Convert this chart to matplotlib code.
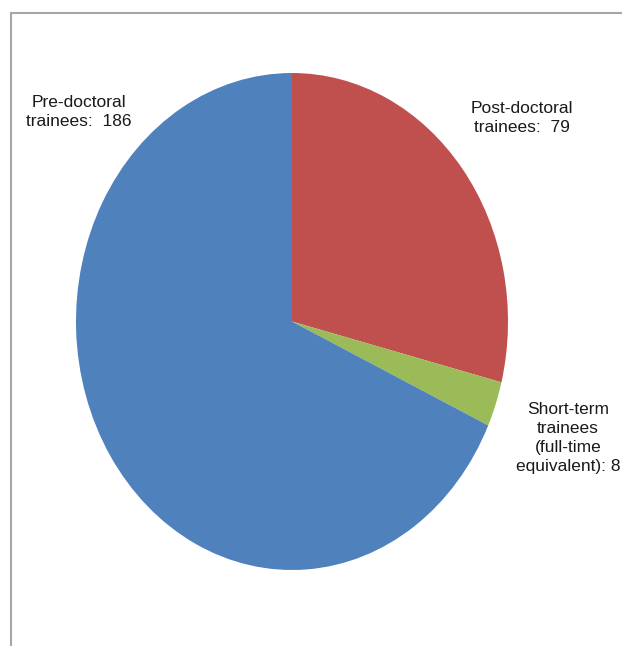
import matplotlib
matplotlib.use("Agg")
import matplotlib.pyplot as plt
from matplotlib.lines import Line2D

labels = ["Post-doctoral\ntrainees:  79",
          "Short-term\ntrainees\n(full-time\nequivalent): 8",
          "Pre-doctoral\ntrainees:  186"]
values = [79, 8, 186]
colors = ["#C0504D", "#9BBB59", "#4F81BD"]
# label centres, in figure pixels from top-left
label_pos = [(522, 118), (568, 438), (79, 112)]

W, H = 622, 646
fig = plt.figure(figsize=(W / 100, H / 100), dpi=100)
plt.rcParams["font.family"] = ["Liberation Sans", "DejaVu Sans"]

# the pie is drawn as an ellipse (stretched vertically) like the original
cx, cy, rx, ry = 292, 321.5, 216, 248.5
ax = fig.add_axes([(cx - rx) / W, 1 - (cy + ry) / H, 2 * rx / W, 2 * ry / H])
ax.pie(values, colors=colors, startangle=90, counterclock=False,
       radius=1, wedgeprops=dict(linewidth=0))
ax.set_xlim(-1, 1)
ax.set_ylim(-1, 1)
ax.set_aspect("auto")
ax.axis("off")

for text, (px, py) in zip(labels, label_pos):
    fig.text(px / W, 1 - py / H, text, ha="center", va="center",
             fontsize=12.5, color="#1a1a1a", linespacing=1.35)

# chart-area frame: left and top edges only visible
top = 1 - 12.5 / H
fig.add_artist(Line2D([10.5 / W, 10.5 / W], [0, top], color="#A6A6A6",
                      lw=1.5, solid_capstyle="butt"))
fig.add_artist(Line2D([10 / W, 1], [top, top], color="#A6A6A6",
                      lw=1.5, solid_capstyle="butt"))

fig.savefig("out.png", dpi=100)
